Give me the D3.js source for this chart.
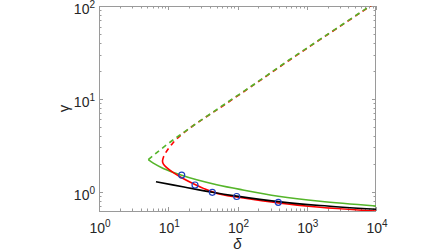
<!DOCTYPE html>
<html><head><meta charset="utf-8">
<script src="https://cdn.jsdelivr.net/npm/d3@7/dist/d3.min.js"></script>
<style>body{margin:0;background:#fff}svg{display:block}</style>
</head><body>
<svg id="chart" width="448" height="252"></svg>
<script>
// ---- data (delta, gamma) ----
const xTickValues = [1, 10, 100, 1000, 10000];
const xTickExponents = ["0", "1", "2", "3", "4"];
const yTickValues = [1, 10, 100];
const yTickExponents = ["0", "1", "2"];

const greenDashed = [[5.15,2.212],[6.44,2.542],[8.48,3.001],[11.21,3.518],[14.78,4.082],[26.28,5.524],[61.1,8.48],[185,14.82],[554,26.2],[1775,46.7],[8194,100],[10000,110.5]];
const greenSolid = [[5.15,2.212],[6.08,2.033],[8.48,1.783],[15.64,1.506],[25.75,1.344],[50.1,1.190],[108.7,1.059],[388,0.895],[1553,0.789],[10000,0.702]];
const redDashed = [[8.26,2.14],[8.54,2.365],[9.13,2.61],[10.08,2.92],[11.52,3.31],[13.60,3.77],[16.88,4.33],[22.03,5.04],[35.1,6.38],[61.1,8.38],[185,14.7],[554,25.9],[1775,46.4],[8330,100],[10000,109.5]];
const redSolid = [[8.26,2.14],[8.48,1.99],[9.50,1.814],[11.83,1.603],[15.64,1.416],[24.34,1.196],[32.8,1.080],[43.3,0.996],[63.8,0.922],[97.4,0.877],[388,0.756],[1553,0.681],[10000,0.618]];
const blackSolid = [[6.65,1.282],[16.9,1.124],[43.3,0.986],[97.4,0.897],[388,0.783],[1553,0.711],[10000,0.647]];
const circles = [[15.64,1.51],[24.34,1.181],[43.3,0.986],[97.4,0.888],[388,0.769]];

// ---- layout ----
const L = 99, R = 376, T = 6, B = 211;
const svg = d3.select("#chart");
const x = d3.scaleLog().domain([1, 10000]).range([L, R]);
const y = d3.scaleLog().domain([0.62, 100]).range([B, T]);

svg.append("clipPath").attr("id","clip").append("rect")
  .attr("x", L).attr("y", T).attr("width", R - L).attr("height", B - T);

const axisColor = "#9a9a9a";
const textColor = "#262626";
const font = "Liberation Sans, Arial, Helvetica, sans-serif";

// minor ticks
const xMinor = [];
for (let e = 0; e < 4; e++) for (let m = 2; m <= 9; m++) xMinor.push(m * Math.pow(10, e));
const yMinor = [];
for (let e = -1; e < 2; e++) for (let m = 2; m <= 9; m++) { const v = m * Math.pow(10, e); if (v >= 0.62 && v <= 100) yMinor.push(v); }

const g = svg.append("g");
const tickG = g.append("g").attr("stroke", axisColor).attr("stroke-width", 1);
const majLen = 4, minLen = 2.5;
xTickValues.forEach(v => {
  const px = Math.round(x(v)) + 0.5;
  tickG.append("line").attr("x1", px).attr("x2", px).attr("y1", B).attr("y2", B - majLen);
  tickG.append("line").attr("x1", px).attr("x2", px).attr("y1", T).attr("y2", T + majLen);
});
xMinor.forEach(v => {
  const px = Math.round(x(v)) + 0.5;
  tickG.append("line").attr("x1", px).attr("x2", px).attr("y1", B).attr("y2", B - minLen);
  tickG.append("line").attr("x1", px).attr("x2", px).attr("y1", T).attr("y2", T + minLen);
});
yTickValues.forEach(v => {
  const py = Math.round(y(v)) + 0.5;
  tickG.append("line").attr("x1", L).attr("x2", L + majLen).attr("y1", py).attr("y2", py);
  tickG.append("line").attr("x1", R).attr("x2", R - majLen).attr("y1", py).attr("y2", py);
});
yMinor.forEach(v => {
  const py = Math.round(y(v)) + 0.5;
  tickG.append("line").attr("x1", L).attr("x2", L + minLen).attr("y1", py).attr("y2", py);
  tickG.append("line").attr("x1", R).attr("x2", R - minLen).attr("y1", py).attr("y2", py);
});

// box
g.append("rect").attr("x", L + 0.5).attr("y", T + 0.5).attr("width", R - L - 1).attr("height", B - T)
  .attr("fill", "none").attr("stroke", axisColor).attr("stroke-width", 1);

// tick labels
xTickValues.forEach((v, i) => {
  const t = g.append("text").attr("x", x(v) + 1).attr("y", B + 22)
    .attr("text-anchor", "middle").attr("font-family", font).attr("font-size", 14).attr("fill", textColor);
  t.append("tspan").text("10");
  t.append("tspan").attr("dy", -6).attr("font-size", 10).text(xTickExponents[i]);
});
yTickValues.forEach((v, i) => {
  const t = g.append("text").attr("x", L - 4).attr("y", y(v) + 8)
    .attr("text-anchor", "end").attr("font-family", font).attr("font-size", 14).attr("fill", textColor);
  t.append("tspan").text("10");
  t.append("tspan").attr("dy", -6).attr("font-size", 10).text(yTickExponents[i]);
});

// axis labels
g.append("text").attr("x", (L + R) / 2).attr("y", 249)
  .attr("text-anchor", "middle").attr("font-family", font).attr("font-size", 15)
  .attr("font-style", "italic").attr("fill", textColor).text("δ");
g.append("text").attr("transform", `translate(69,${(T + B) / 2}) rotate(-90)`)
  .attr("text-anchor", "middle").attr("font-family", font).attr("font-size", 15)
  .attr("fill", textColor).text("γ");

// curves
const lineC = d3.line().x(d => x(d[0])).y(d => y(d[1])).curve(d3.curveCatmullRom.alpha(0.5));
const plot = svg.append("g").attr("clip-path", "url(#clip)");
const green = "#55b52a", red = "#ff0000";
const lw = 1.6;

plot.append("path").datum(greenSolid).attr("d", lineC).attr("fill","none").attr("stroke",green).attr("stroke-width",lw);

// red: one smooth curve through the nose, solid lower branch then dashed upper branch
const redAll = redSolid.slice().reverse().concat(redDashed.slice(1));
const redD = lineC(redAll);
const tmp = plot.append("path").attr("d", redD).attr("fill","none").attr("stroke","none");
const node = tmp.node();
const total = node.getTotalLength();
let noseLen = 0, minX = Infinity;
for (let s = 0; s <= total; s += 0.25) {
  const p = node.getPointAtLength(s);
  if (p.x < minX) { minX = p.x; noseLen = s; }
}
tmp.remove();
plot.append("path").attr("d", redD).attr("fill","none").attr("stroke",red).attr("stroke-width",lw)
  .attr("stroke-dasharray", `${noseLen} ${total + 20}`);
const dashArr = [0, noseLen];
for (let s = noseLen; s < total + 10; s += 9) dashArr.push(5, 4);
plot.append("path").attr("d", redD).attr("fill","none").attr("stroke",red).attr("stroke-width",lw)
  .attr("stroke-dasharray", dashArr.join(" "));

plot.append("path").datum(blackSolid).attr("d", lineC).attr("fill","none").attr("stroke","#000").attr("stroke-width",lw);
plot.append("path").datum(greenDashed).attr("d", lineC).attr("fill","none").attr("stroke",green).attr("stroke-width",lw).attr("stroke-dasharray","5,4");

plot.selectAll("circle.m").data(circles).enter().append("circle")
  .attr("cx", d => x(d[0])).attr("cy", d => y(d[1])).attr("r", 3)
  .attr("fill", "none").attr("stroke", "#1f3fbf").attr("stroke-width", 1.2);
</script>
</body></html>
